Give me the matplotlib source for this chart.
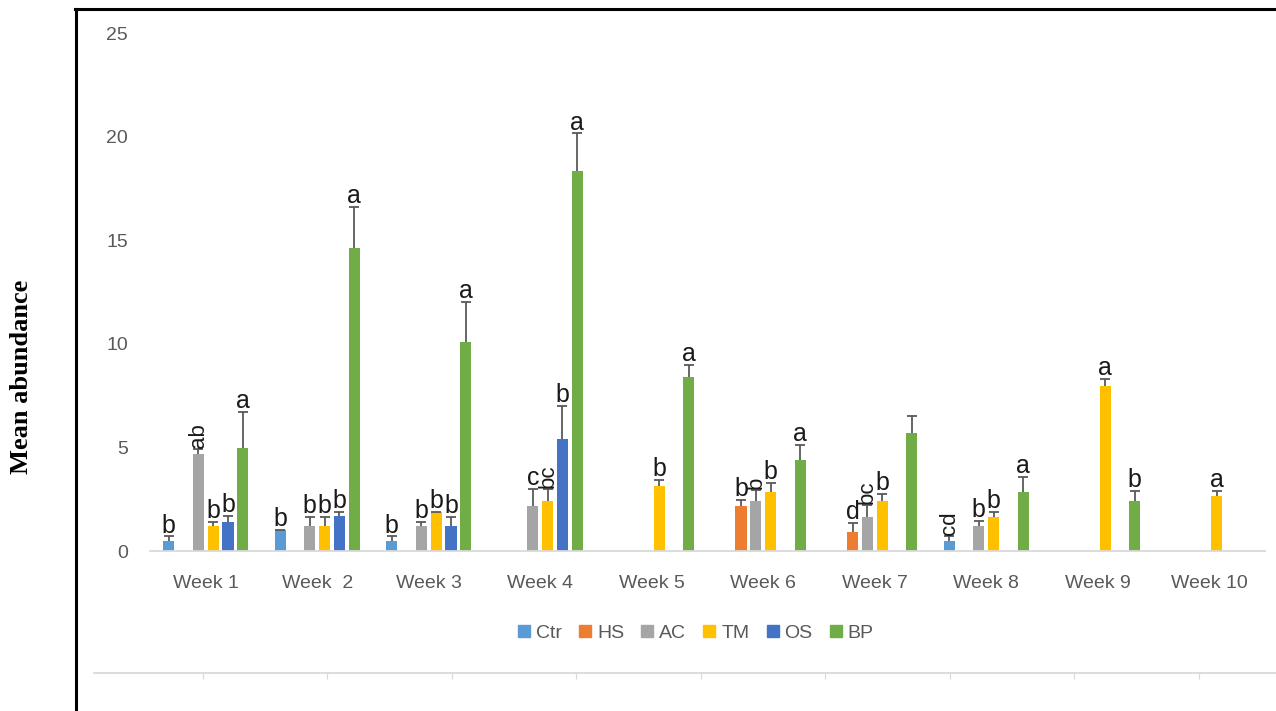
import numpy as np
import matplotlib.pyplot as plt
from matplotlib.lines import Line2D

plt.rcParams['font.family'] = ['Liberation Sans', 'DejaVu Sans']

nan = np.nan
weeks = ["Week 1", "Week  2", "Week 3", "Week 4", "Week 5",
         "Week 6", "Week 7", "Week 8", "Week 9", "Week 10"]
series = ["Ctr", "HS", "AC", "TM", "OS", "BP"]
colors = ["#5B9BD5", "#ED7D31", "#A5A5A5", "#FFC000", "#4472C4", "#70AD47"]

# mean abundance per treatment
ctr = [0.5, 1.0, 0.5, nan, nan, nan, nan, 0.5, nan, nan]
hs = [nan, nan, nan, nan, nan, 2.15, 0.9, nan, nan, nan]
ac = [4.7, 1.2, 1.2, 2.15, nan, 2.4, 1.65, 1.2, nan, nan]
tm = [1.2, 1.2, 1.9, 2.4, 3.15, 2.85, 2.4, 1.65, 7.95, 2.65]
os_ = [1.4, 1.7, 1.2, 5.4, nan, nan, nan, nan, nan, nan]
bp = [4.95, 14.6, 10.1, 18.35, 8.4, 4.4, 5.7, 2.85, 2.4, nan]

# standard errors (upper only)
ctr_err = [0.2, 0.0, 0.2, nan, nan, nan, nan, 0.22, nan, nan]
hs_err = [nan, nan, nan, nan, nan, 0.3, 0.45, nan, nan, nan]
ac_err = [0.2, 0.45, 0.2, 0.85, nan, 0.55, 0.55, 0.25, nan, nan]
tm_err = [0.2, 0.45, 0.0, 0.6, 0.3, 0.45, 0.35, 0.25, 0.35, 0.25]
os_err = [0.3, 0.2, 0.45, 1.6, nan, nan, nan, nan, nan, nan]
bp_err = [1.75, 2.0, 1.9, 1.8, 0.6, 0.7, 0.8, 0.7, 0.5, nan]

# significance letters
ctr_lab = ['b', 'b', 'b', '', '', '', '', 'cd', '', '']
hs_lab = ['', '', '', '', '', 'b', 'd', '', '', '']
ac_lab = ['ab', 'b', 'b', 'c', '', 'b', 'bc', 'b', '', '']
tm_lab = ['b', 'b', 'b', 'bc', 'b', 'b', 'b', 'b', 'a', 'a']
os_lab = ['b', 'b', 'b', 'b', '', '', '', '', '', '']
bp_lab = ['a', 'a', 'a', 'a', 'a', 'a', '', 'a', 'b', '']
# letters printed sideways in the original: (series index, week index)
rotated = [(2, 0), (3, 3), (2, 5), (2, 6), (0, 7)]

values = [ctr, hs, ac, tm, os_, bp]
errors = [ctr_err, hs_err, ac_err, tm_err, os_err, bp_err]
letters = [ctr_lab, hs_lab, ac_lab, tm_lab, os_lab, bp_lab]

W, H = 1276, 711
fig = plt.figure(figsize=(W / 100, H / 100), dpi=100)
ax = fig.add_axes([150 / W, 1 - 551 / H, 1115 / W, 518 / H])

x = np.arange(len(weeks))
pitch = 0.133
width = 0.1
for i, name in enumerate(series):
    xs = x + (i - 2.5) * pitch
    v = np.array(values[i])
    e = np.array(errors[i])
    ax.bar(xs, v, width, color=colors[i], label=name, zorder=2)
    ok = ~np.isnan(v)
    # upper error bar only: stem plus top cap
    ax.vlines(xs[ok], v[ok], v[ok] + e[ok], color='#595959', lw=1.3, zorder=3)
    ax.plot(xs[ok], v[ok] + e[ok], linestyle='none', marker='_', markersize=7,
            markeredgewidth=1.3, color='#595959', zorder=3)
    for j in range(len(weeks)):
        if letters[i][j] == '':
            continue
        top = v[j] + e[j]
        if (i, j) in rotated:
            ax.text(xs[j], top + 0.05, letters[i][j], rotation=90, ha='center',
                    va='bottom', fontsize=16, color='#1a1a1a')
        else:
            ax.text(xs[j], top - 0.05, letters[i][j], ha='center', va='bottom',
                    fontsize=18, color='#1a1a1a')

ax.set_xlim(-0.5, len(weeks) - 0.5)
ax.set_ylim(0, 25)
ax.set_yticks([0, 5, 10, 15, 20, 25])
ax.set_xticks(x)
ax.set_xticklabels(weeks)
ax.tick_params(axis='both', length=0, labelsize=14, labelcolor='#595959')
ax.tick_params(axis='x', pad=17)
ax.tick_params(axis='y', pad=16)
for s in ['top', 'right', 'left']:
    ax.spines[s].set_visible(False)
ax.spines['bottom'].set_color('#D9D9D9')
ax.spines['bottom'].set_linewidth(1.3)

fig.text(22 / W, 1 - 377 / H, 'Mean abundance', rotation=90, ha='center', va='center',
         fontsize=19, fontweight='bold', family='Liberation Serif')

handles = [Line2D([], [], marker='s', linestyle='none', markersize=8.5,
                  markerfacecolor=c, markeredgecolor=c) for c in colors]
fig.legend(handles, series, loc='center', bbox_to_anchor=(695 / W, 1 - 633 / H),
           ncol=6, frameon=False, fontsize=14, labelcolor='#595959',
           handletextpad=0.2, columnspacing=0.8, handlelength=0.8)

# leftover axis line of the page below
ax2 = fig.add_axes([94 / W, 1 - 673 / H, (W - 94) / W, 0.001])
ax2.set_xlim(-0.875, 8.62)
ax2.set_xticks(np.arange(9))
ax2.set_xticklabels([])
ax2.set_yticks([])
for s in ['top', 'right', 'left']:
    ax2.spines[s].set_visible(False)
ax2.spines['bottom'].set_color('#D9D9D9')
ax2.spines['bottom'].set_linewidth(1.3)
ax2.tick_params(axis='x', length=4, color='#D9D9D9')
ax2.patch.set_alpha(0)

# black frame lines
fig.add_artist(Line2D([76 / W, 76 / W], [0, 1 - 9 / H], color='black', lw=2.2))
fig.add_artist(Line2D([75 / W, 1], [1 - 9 / H, 1 - 9 / H], color='black', lw=2.2))

fig.savefig('out.png', dpi=100)
